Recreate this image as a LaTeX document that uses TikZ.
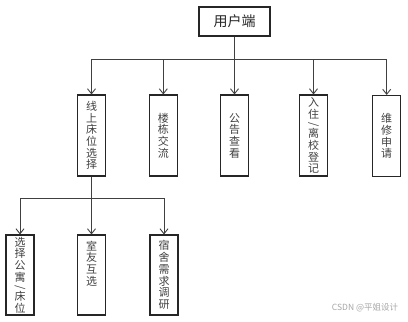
\documentclass[tikz,border=0pt]{standalone}
\usepackage{fontspec}
\setmainfont{Noto Sans CJK SC}
\usetikzlibrary{arrows.meta}
\begin{document}
\begin{tikzpicture}[x=1pt,y=-1pt,
  box/.style={draw=black!85,line width=1.1pt,minimum width=28pt,minimum height=81pt,inner sep=0pt,align=center,font=\fontsize{11}{11.7}\selectfont,text=black!75},
  rootbox/.style={draw=black!85,line width=1.1pt,minimum width=71pt,minimum height=29pt,inner sep=0pt,font=\fontsize{14}{16}\selectfont,text=black!85},
  link/.style={draw=black!75,line width=0.9pt},
  arr/.style={link,-{Straight Barb[length=5pt,width=8pt,line width=0.9pt]}}
]
\useasboundingbox (0,0) rectangle (408,322);
\node[rootbox] (root) at (234.5,21.5) {用户端};
\node[box] (b1) at (91.5,135.5) {线\\上\\床\\位\\选\\择};
\node[box] (b2) at (163.3,135.5) {楼\\栋\\交\\流};
\node[box] (b3) at (234.5,135.5) {公\\告\\查\\看};
\node[box] (b4) at (313.5,135.5) {入\\住\\[-2pt]\rotatebox[origin=c]{-90}{/}\\[-2pt]离\\校\\登\\记};
\node[box] (b5) at (386.7,136) {维\\修\\申\\请};
\node[box,minimum height=80pt] (c1) at (20,275) {选\\择\\公\\寓\\[-2pt]\rotatebox[origin=c]{-90}{/}\\[-2pt]床\\位};
\node[box,minimum height=80pt] (c2) at (91.5,275) {室\\友\\互\\选\\[12pt]};
\node[box,minimum height=80pt] (c3) at (164,275) {宿\\舍\\需\\求\\调\\研};
\node[text=black!35,font=\fontsize{8.5}{10}\selectfont] (wm) at (365,307.5) {CSDN @平姐设计};
\coordinate (bus1) at (0,59);
\coordinate (bus2) at (0,198);
\draw[link] (bus1 -| b1) -- (bus1 -| b5);
\draw[arr] (root.south) -- (b3.north);
\foreach \n in {b1,b2,b4,b5} \draw[arr] (bus1 -| \n) -- (\n.north);
\draw[link] (bus2 -| c1) -- (bus2 -| c3);
\draw[arr] (b1.south) -- (c2.north);
\foreach \n in {c1,c3} \draw[arr] (bus2 -| \n) -- (\n.north);
\end{tikzpicture}
\end{document}
